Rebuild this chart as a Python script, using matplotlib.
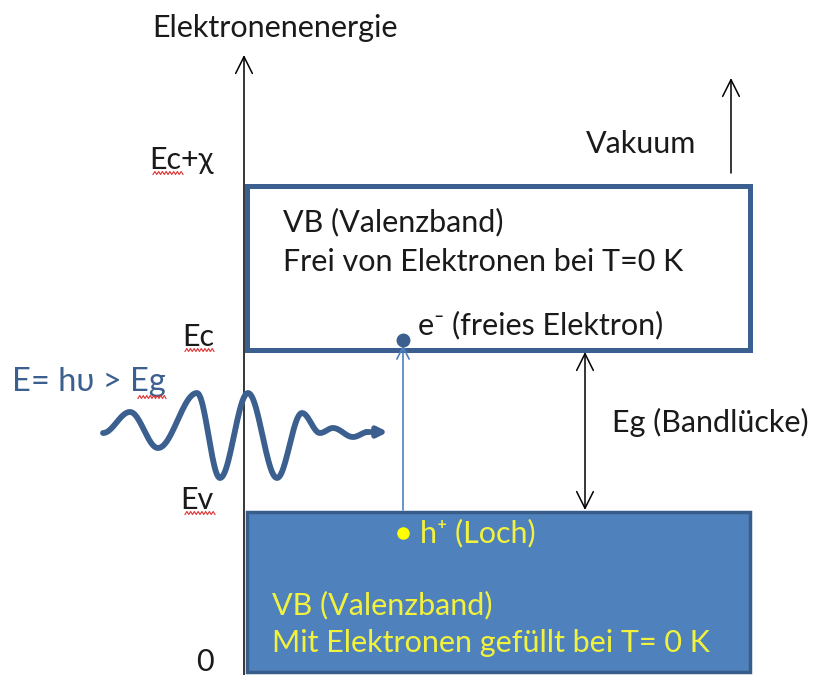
import numpy as np
import matplotlib
matplotlib.use("Agg")
import matplotlib.pyplot as plt
from matplotlib.patches import Rectangle

DPI = 100
plt.rcParams['font.family'] = ['Lato', 'DejaVu Sans']
FS = 22

# energy levels (arbitrary units, 0 = bottom of valence band)
level_labels = ["0", "Ev", "Ec", "Ec+χ"]
level_energy = [0, 160, 322, 486]
axis_top = 617

# band x-extent
band_left, band_right = 247, 750

# light wave extrema (x, E)
wave_x = [103, 130, 158, 197, 220, 248, 277, 302, 320, 333, 353, 368]
wave_e = [239, 260, 224, 279, 194, 279, 194, 259, 239, 244, 235, 240]

TEXT = "#1a1a1a"
DARK_BLUE = "#3b5f8e"
FILL_BLUE = "#4f81bd"
YELLOW = "#f2f23c"

fig = plt.figure(figsize=(817 / DPI, 675 / DPI), dpi=DPI)
ax = fig.add_axes([0, 0, 1, 1])
ax.set_xlim(0, 817)
ax.set_ylim(-3, 672)
ax.axis("off")

e0, ev, ec, evac = level_energy

# energy axis
ax.annotate("", xy=(244, axis_top), xytext=(244, -3),
            arrowprops=dict(arrowstyle="->", lw=1.1, color="black",
                            mutation_scale=30, shrinkA=0, shrinkB=0))
ax.text(152, 644, "Elektronenenergie", fontsize=FS, color=TEXT,
        ha="left", va="center")

# conduction band (empty) and valence band (filled)
ax.add_patch(Rectangle((band_left, ec), band_right - band_left, evac - ec,
                       facecolor="white", edgecolor=DARK_BLUE, lw=3.6, zorder=3))
ax.add_patch(Rectangle((band_left, e0), band_right - band_left, ev - e0,
                       facecolor=FILL_BLUE, edgecolor="#385d8a", lw=2.5, zorder=3))

# level labels left of the axis
label_pos = {"0": 10, "Ev": 172, "Ec": 335, "Ec+χ": 512}
for name in level_labels:
    ax.text(214, label_pos[name], name, fontsize=FS, color=TEXT,
            ha="right", va="center")


def squiggle(x0, x1, y, n=8):
    xs = np.linspace(x0, x1, 2 * n + 1)
    ys = y + np.where(np.arange(len(xs)) % 2, 1.5, -1.5)
    ax.plot(xs, ys, color="#e03030", lw=0.8, zorder=5)


squiggle(153, 183, 672 - 173)
squiggle(185, 214, 672 - 350)
squiggle(185, 215, 672 - 513)
squiggle(138, 166, 672 - 397)

# vacuum arrow
ax.annotate("", xy=(731, 594), xytext=(731, 499),
            arrowprops=dict(arrowstyle="->", lw=1.1, color="black",
                            mutation_scale=30, shrinkA=0, shrinkB=0))
ax.text(586, 528, "Vakuum", fontsize=FS, color=TEXT, ha="left", va="center")

# band gap arrow
ax.annotate("", xy=(585, ec - 2), xytext=(585, ev + 2),
            arrowprops=dict(arrowstyle="<->", lw=1.1, color="black",
                            mutation_scale=30, shrinkA=0, shrinkB=0))
ax.text(612, 250, "Eg (Bandlücke)", fontsize=FS, color=TEXT,
        ha="left", va="center")

# conduction band text
ax.text(283, 450, "VB (Valenzband)", fontsize=FS, color=TEXT,
        ha="left", va="center", zorder=4)
ax.text(283, 410, "Frei von Elektronen bei T=0 K", fontsize=FS, color=TEXT,
        ha="left", va="center", zorder=4)
ax.text(418, 347, "e⁻ (freies Elektron)", fontsize=FS, color=TEXT,
        ha="left", va="center", zorder=4)

# excitation arrow + electron
ax.annotate("", xy=(403, ec + 5), xytext=(403, ev + 2),
            arrowprops=dict(arrowstyle="->", lw=1.2, color=FILL_BLUE,
                            mutation_scale=22, shrinkA=0, shrinkB=0), zorder=4)
ax.plot(403, 332, "o", ms=9, color=DARK_BLUE, zorder=5)

# hole
ax.plot(403, 139, "o", ms=8, color="#ffff00", zorder=5)
ax.text(420, 139, "h⁺ (Loch)", fontsize=FS, color=YELLOW,
        ha="left", va="center", zorder=5)
ax.text(272, 67, "VB (Valenzband)", fontsize=FS, color=YELLOW,
        ha="left", va="center", zorder=5)
ax.text(272, 29, "Mit Elektronen gefüllt bei T= 0 K", fontsize=FS, color=YELLOW,
        ha="left", va="center", zorder=5)

# photon
ax.text(12, 290, "E= hυ > Eg", fontsize=23.5, color=DARK_BLUE,
        ha="left", va="center")
wx, wy = [], []
for i in range(len(wave_x) - 1):
    t = np.linspace(0, 1, 25)
    wx.extend(wave_x[i] + (wave_x[i + 1] - wave_x[i]) * t)
    wy.extend(wave_e[i] + (wave_e[i + 1] - wave_e[i]) * (1 - np.cos(np.pi * t)) / 2)
ax.plot(wx, wy, color=DARK_BLUE, lw=4.2, solid_capstyle="round", zorder=4)
ax.annotate("", xy=(388, 240), xytext=(366, 240),
            arrowprops=dict(arrowstyle="-|>", lw=4.0, color=DARK_BLUE,
                            mutation_scale=14, shrinkA=0, shrinkB=0), zorder=4)

fig.savefig("out.png", dpi=DPI)
